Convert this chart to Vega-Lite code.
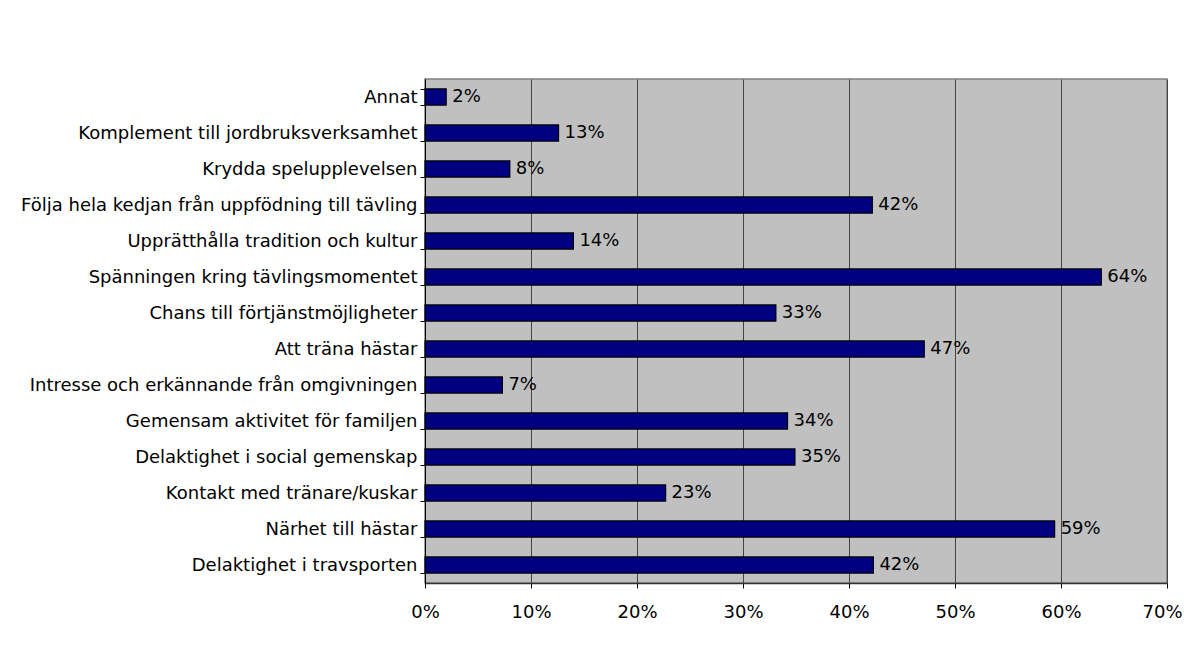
{
  "$schema": "https://vega.github.io/schema/vega-lite/v6.json",
  "autosize": {"type": "none"},
  "width": 742,
  "height": 504,
  "padding": {"left": 425, "top": 79, "right": 17, "bottom": 88},
  "background": "white",
  "config": {
    "font": "DejaVu Sans",
    "view": {"fill": "#c0c0c0", "stroke": "#808080", "strokeWidth": 1.5}
  },
  "data": {
    "values": [
      {"motiv": "Annat", "andel": 0.020},
      {"motiv": "Komplement till jordbruksverksamhet", "andel": 0.126},
      {"motiv": "Krydda spelupplevelsen", "andel": 0.080},
      {"motiv": "Följa hela kedjan från uppfödning till tävling", "andel": 0.422},
      {"motiv": "Upprätthålla tradition och kultur", "andel": 0.140},
      {"motiv": "Spänningen kring tävlingsmomentet", "andel": 0.638},
      {"motiv": "Chans till förtjänstmöjligheter", "andel": 0.331},
      {"motiv": "Att träna hästar", "andel": 0.471},
      {"motiv": "Intresse och erkännande från omgivningen", "andel": 0.073},
      {"motiv": "Gemensam aktivitet för familjen", "andel": 0.342},
      {"motiv": "Delaktighet i social gemenskap", "andel": 0.349},
      {"motiv": "Kontakt med tränare/kuskar", "andel": 0.227},
      {"motiv": "Närhet till hästar", "andel": 0.594},
      {"motiv": "Delaktighet i travsporten", "andel": 0.423}
    ]
  },
  "encoding": {
    "y": {
      "field": "motiv",
      "type": "nominal",
      "sort": null,
      "scale": {"paddingInner": 0.55, "paddingOuter": 0.275},
      "axis": {
        "title": null,
        "tickBand": "extent",
        "labelFontSize": 18,
        "labelColor": "#000000",
        "labelPadding": 3,
        "labelLimit": 0,
        "tickSize": 5,
        "tickColor": "#000000",
        "domainColor": "#000000",
        "grid": false
      }
    },
    "x": {
      "field": "andel",
      "type": "quantitative",
      "scale": {"domain": [0, 0.7], "nice": false},
      "axis": {
        "title": null,
        "format": ".0%",
        "values": [0, 0.1, 0.2, 0.3, 0.4, 0.5, 0.6, 0.7],
        "labelFontSize": 18,
        "labelColor": "#000000",
        "labelPadding": 15,
        "labelFlush": false,
        "labelOffset": {"condition": {"test": "datum.value >= 0.69", "value": -5}, "value": 0},
        "tickSize": 5,
        "tickColor": "#000000",
        "domainColor": "#333333",
        "domainWidth": 1.5,
        "grid": true,
        "gridColor": "#444444",
        "gridWidth": 1
      }
    }
  },
  "layer": [
    {
      "mark": {"type": "bar", "fill": "#000080", "stroke": "#000000", "strokeWidth": 1.2},
      "encoding": {}
    },
    {
      "mark": {"type": "text", "align": "left", "baseline": "middle", "dx": 6, "fontSize": 18, "color": "#000000"},
      "encoding": {
        "text": {"field": "andel", "type": "quantitative", "format": ".0%"}
      }
    }
  ]
}
